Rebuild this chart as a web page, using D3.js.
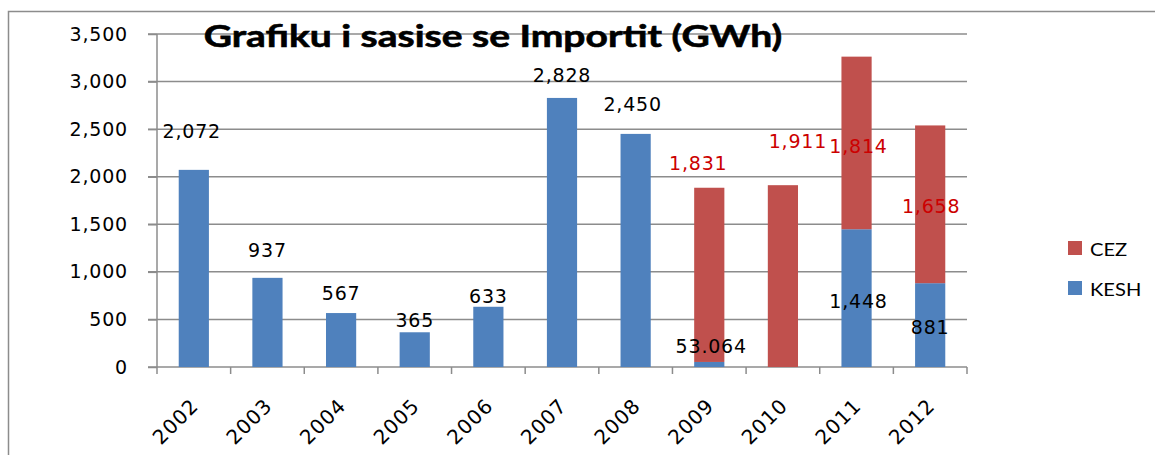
<!DOCTYPE html>
<html lang="sq">
<head>
<meta charset="UTF-8">
<title>Grafiku i sasise se Importit (GWh)</title>
<script src="https://d3js.org/d3.v7.min.js"></script>
<style>
 body { margin: 0; background: #fff; }
 svg { display: block; }
 .grid line { stroke: #8c8c8c; stroke-width: 1.5px; }
 .axis path, .axis line { stroke: #8c8c8c; stroke-width: 1.5px; }
 .axis text { font-family: "DejaVu Sans", sans-serif; font-size: 19px; letter-spacing: 0.8px; fill: #000; }
 .axis text.yl { font-size: 20px; letter-spacing: 1px; }
 .lbl { font-family: "DejaVu Sans", sans-serif; font-size: 19px; letter-spacing: 0.8px; }
</style>
</head>
<body>
<div id="chart"></div>
<script>
// data
const years = ["2002","2003","2004","2005","2006","2007","2008","2009","2010","2011","2012"];
const kesh = [2072, 937, 567, 365, 633, 2828, 2450, 53.064, 0, 1448, 881];
const cez  = [0, 0, 0, 0, 0, 0, 0, 1831, 1911, 1814, 1658];
const keshLabels = ["2,072","937","567","365","633","2,828","2,450","53.064","","1,448","881"];
const cezLabels  = ["","","","","","","","1,831","1,911","1,814","1,658"];
const yTicks = [0, 500, 1000, 1500, 2000, 2500, 3000, 3500];

// hand placed label offsets (dx from bar centre, baseline y in px) like the original
const keshLblPos = [[-2,138],[0,257],[0,300],[0,327],[0,303],[0,82],[-3,111],[2,353],[0,0],[2,308],[0,334]];
const cezLblPos  = [[0,0],[0,0],[0,0],[0,0],[0,0],[0,0],[0,0],[-11,170],[15,148],[2,153],[1,213]];

const width = 1155, height = 455;
const blue = "#4f81bd", red = "#c0504d";

const svg = d3.select("#chart").append("svg")
  .attr("width", width)
  .attr("height", height);

// outer chart border
svg.append("rect")
  .attr("x", 8.5).attr("y", 11.5)
  .attr("width", 1160).attr("height", 460)
  .attr("fill", "none")
  .attr("stroke", "#8c8c8c")
  .attr("stroke-width", 1.5);

const x0 = 157, x1 = 967;
const x = d3.scaleBand().domain(years).range([x0, x1]).paddingInner(0.59).paddingOuter(0.295);
const xCat = d3.scaleBand().domain(years).range([x0, x1]);
const y = d3.scaleLinear().domain([0, 3500]).range([367, 34]);

// gridlines
svg.append("g").attr("class", "grid")
  .selectAll("line")
  .data(yTicks.filter(d => d > 0))
  .enter().append("line")
  .attr("x1", x0 - 9).attr("x2", x1)
  .attr("y1", d => y(d)).attr("y2", d => y(d));

// y axis
const yAxis = svg.append("g").attr("class", "axis")
  .attr("transform", `translate(${x0},0)`)
  .call(d3.axisLeft(y).tickValues(yTicks).tickFormat(d3.format(",")).tickSize(9).tickPadding(20));
yAxis.select(".domain").remove();
yAxis.append("line").attr("x1", 0).attr("x2", 0).attr("y1", y(3500)).attr("y2", y(0));

// x axis with ticks at category boundaries
const xAxisG = svg.append("g").attr("class", "axis");
xAxisG.append("line").attr("x1", x0 - 9).attr("x2", x1).attr("y1", y(0)).attr("y2", y(0));
xAxisG.selectAll(".tk")
  .data(years.concat(["end"]))
  .enter().append("line")
  .attr("class", "tk")
  .attr("x1", (d, i) => i < years.length ? xCat(d) : x1)
  .attr("x2", (d, i) => i < years.length ? xCat(d) : x1)
  .attr("y1", y(0)).attr("y2", y(0) + 7);
xAxisG.selectAll(".yl")
  .data(years)
  .enter().append("text")
  .attr("class", "yl")
  .attr("text-anchor", "end")
  .attr("transform", d => `translate(${x(d) + x.bandwidth() / 2 + 6},${y(0) + 40}) rotate(-45)`)
  .text(d => d);

// stacked bars
const rows = years.map((yr, i) => ({ year: yr, KESH: kesh[i], CEZ: cez[i] }));
const stack = d3.stack().keys(["KESH", "CEZ"])(rows);
const colors = { KESH: blue, CEZ: red };

svg.append("g").selectAll("g")
  .data(stack)
  .enter().append("g")
  .attr("fill", d => colors[d.key])
  .selectAll("rect")
  .data(d => d.filter(p => p[1] - p[0] > 0))
  .enter().append("rect")
  .attr("x", d => x(d.data.year))
  .attr("width", x.bandwidth())
  .attr("y", d => y(d[1]))
  .attr("height", d => y(d[0]) - y(d[1]));

// data labels
const lblG = svg.append("g");
years.forEach((yr, i) => {
  const cx = x(yr) + x.bandwidth() / 2;
  if (keshLabels[i]) {
    lblG.append("text").attr("class", "lbl")
      .attr("text-anchor", "middle")
      .attr("x", cx + keshLblPos[i][0]).attr("y", keshLblPos[i][1])
      .attr("fill", "#000")
      .text(keshLabels[i]);
  }
  if (cezLabels[i]) {
    lblG.append("text").attr("class", "lbl")
      .attr("text-anchor", "middle")
      .attr("x", cx + cezLblPos[i][0]).attr("y", cezLblPos[i][1])
      .attr("fill", "#cc0000")
      .text(cezLabels[i]);
  }
});

// title (the original is stretched sideways)
svg.append("text")
  .attr("transform", "translate(493,47) scale(1.3,1)")
  .attr("text-anchor", "middle")
  .attr("font-family", "Lato, sans-serif")
  .attr("font-weight", "bold")
  .attr("font-size", 30)
  .attr("stroke", "#000")
  .attr("stroke-width", 0.6)
  .text("Grafiku i sasise se Importit (GWh)");

// legend
const legend = [["CEZ", red], ["KESH", blue]];
const lg = svg.append("g").attr("transform", "translate(1068,241)");
lg.selectAll("rect").data(legend).enter().append("rect")
  .attr("x", 0).attr("y", (d, i) => i * 40)
  .attr("width", 14).attr("height", 14)
  .attr("fill", d => d[1]);
lg.selectAll("text").data(legend).enter().append("text")
  .attr("transform", (d, i) => `translate(22,${i * 40 + 15}) scale(1.12,1)`)
  .attr("font-family", "Lato, sans-serif")
  .attr("font-size", 18)
  .text(d => d[0]);
</script>
</body>
</html>
